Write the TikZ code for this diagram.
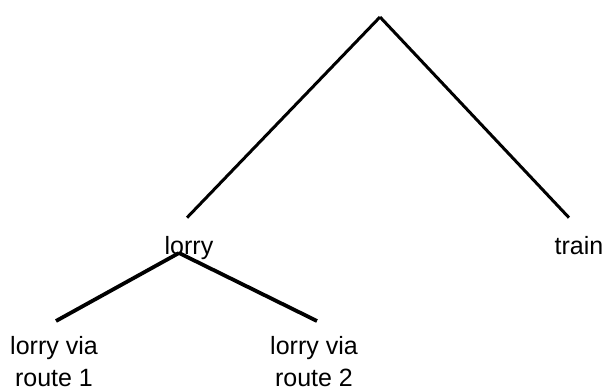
\documentclass[tikz,border=0pt]{standalone}
\usepackage{fontspec}
\setmainfont{Liberation Sans}
\usepackage{tikz}

\begin{document}
\begin{tikzpicture}[x=1pt, y=-1pt,
  lbl/.style={inner sep=0pt, align=center, font=\fontsize{25}{32}\selectfont},
  branch/.style={line width=3pt},
  twig/.style={line width=3.8pt}]
\useasboundingbox (0,0) rectangle (603,387);
\coordinate (root) at (380,17);
\node[lbl, anchor=base] (lorry) at (189,255) {lorry};
\node[lbl, anchor=base] (train) at (579,255) {train};
\node[lbl, anchor=north] (route1) at (54,336) {lorry via\\route 1};
\node[lbl, anchor=north] (route2) at (314,336) {lorry via\\route 2};
\draw[branch] (root) -- ([xshift=-2pt, yshift=19pt]lorry.north);
\draw[branch] (root) -- ([xshift=-10pt, yshift=19pt]train.north);
\draw[twig] ([xshift=-10pt, yshift=2pt]lorry.base) -- ([xshift=2pt, yshift=15pt]route1.north);
\draw[twig] ([xshift=-10pt, yshift=2pt]lorry.base) -- ([xshift=3pt, yshift=15pt]route2.north);
\end{tikzpicture}
\end{document}
